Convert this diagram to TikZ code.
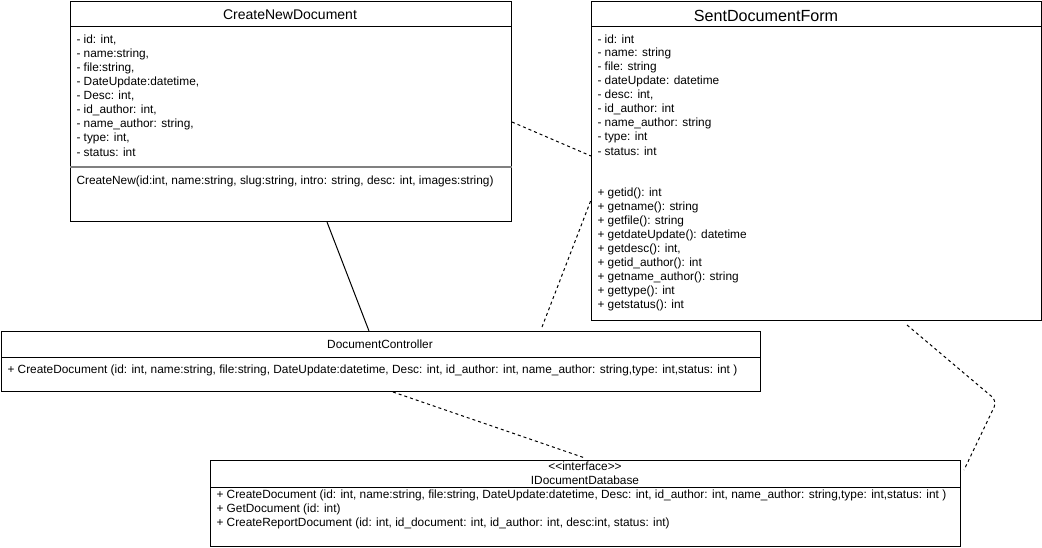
\documentclass[tikz,border=0pt]{standalone}
\usepackage{fontspec}
\setmainfont{Liberation Sans}
\usetikzlibrary{positioning}
\usetikzlibrary{calc}

\begin{document}
\begin{tikzpicture}[x=0.75pt, y=-0.75pt, line width=0.75pt,
	class box/.style 2 args={draw=black, anchor=north west, inner sep=0, minimum width=#1*0.75pt, minimum height=#2*0.75pt},
	attr node/.style={anchor=west, inner sep=0, font=\fontsize{8.9}{10}\selectfont},
	title node/.style={inner sep=0, font=\fontsize{8.9}{10}\selectfont},
	dep line/.style={draw=black, dash pattern=on 2.25pt off 2.25pt}, ]
		\useasboundingbox (0,0) rectangle (1042,547);
		
		%class boxes
		\node[class box={441}{220}] (cnd) at (70,1) {};
		\node[class box={450}{319}] (sdf) at (591,1) {};
		\node[class box={759}{60}] (dc) at (1,331) {};
		\node[class box={750}{86}] (idb) at (210,460) {};
		
		%CreateNewDocument
		\draw ($(cnd.north west)+(0,25)$) -- ($(cnd.north east)+(0,25)$);
		\node[title node, font=\fontsize{10.5}{12}\selectfont] (cndt) at (290,15) {CreateNewDocument};
		\foreach \t [count=\i from 0] in {{- id: int,},{- name:string,},{- file:string,},{- DateUpdate:datetime,},{- Desc: int,},{- id\_author: int,},{- name\_author: string,},{- type: int,},{- status: int}}
		{
			\node[attr node] (cnda\i) at (76,{40+14*\i}) {\t};
		}
		\draw[gray, line width=1.1pt] ($(cnd.north west)+(0,166)$) -- ($(cnd.north east)+(0,166)$);
		\node[attr node] (cndm) at (76,181) {CreateNew(id:int, name:string, slug:string, intro: string, desc: int, images:string)};
		
		%SentDocumentForm
		\draw ($(sdf.north west)+(0,25)$) -- ($(sdf.north east)+(0,25)$);
		\node[title node, font=\fontsize{12.1}{13}\selectfont] (sdft) at (766,16) {SentDocumentForm};
		\foreach \t [count=\i from 0] in {{- id: int},{- name: string},{- file: string},{- dateUpdate: datetime},{- desc: int,},{- id\_author: int},{- name\_author: string},{- type: int},{- status: int}}
		{
			\node[attr node] (sdfa\i) at (597,{39+14*\i}) {\t};
		}
		\foreach \t [count=\i from 0] in {{+ getid(): int},{+ getname(): string},{+ getfile(): string},{+ getdateUpdate(): datetime},{+ getdesc(): int,},{+ getid\_author(): int},{+ getname\_author(): string},{+ gettype(): int},{+ getstatus(): int}}
		{
			\node[attr node] (sdfm\i) at (597,{193+14*\i}) {\t};
		}
		
		%DocumentController
		\draw ($(dc.north west)+(0,26)$) -- ($(dc.north east)+(0,26)$);
		\node[title node] (dct) at (380,344) {DocumentController};
		\node[attr node] (dcm) at (7,370) {+ CreateDocument (id: int, name:string, file:string, DateUpdate:datetime, Desc: int, id\_author: int, name\_author: string,type: int,status: int )};
		
		%IDocumentDatabase
		\node[title node] (idbs) at (585,466) {<\kern0pt<interface>\kern0pt>};
		\node[title node] (idbt) at (585,480) {IDocumentDatabase};
		\draw ($(idb.north west)+(0,27)$) -- ($(idb.north east)+(0,27)$);
		\node[attr node] (idbm0) at (216,495) {+ CreateDocument (id: int, name:string, file:string, DateUpdate:datetime, Desc: int, id\_author: int, name\_author: string,type: int,status: int )};
		\node[attr node] (idbm1) at (216,509) {+ GetDocument (id: int)};
		\node[attr node] (idbm2) at (216,523) {+ CreateReportDocument (id: int, id\_document: int, id\_author: int, desc:int, status: int)};
		
		%connectors
		\draw ($(cnd.south west)+(257,0)$) -- ($(dc.north west)+(368,0)$);
		\path[dep line] ($(cnd.north east)+(0,121)$) -- ($(sdf.north west)+(0,155)$);
		\path[dep line] ($(dc.north west)+(541,-4)$) -- ($(sdf.north west)+(0,199)$);
		\path[dep line] ($(dc.south west)+(392,0)$) -- ($(idb.north west)+(375,-2)$);
		\coordinate (bend) at (997,401);
		\path[dep line, rounded corners=5pt] ($(sdf.south west)+(316,4)$) -- (bend) -- ($(idb.north east)+(3,10)$);
		
\end{tikzpicture}
\end{document}
